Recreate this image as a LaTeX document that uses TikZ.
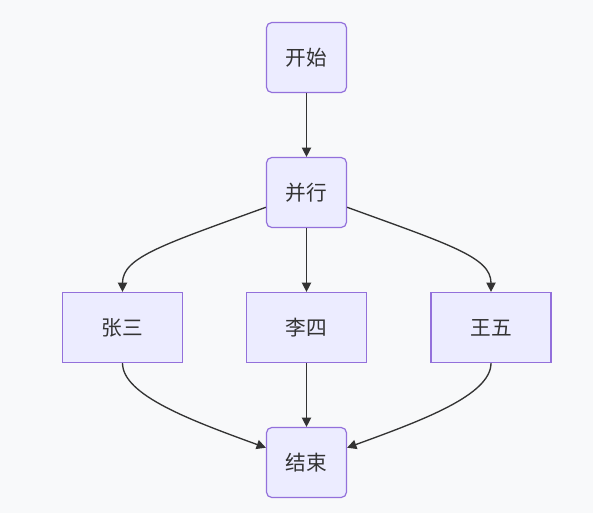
\documentclass[tikz,border=0pt]{standalone}
\usepackage{fontspec}
\newfontfamily\cjk{Noto Sans CJK SC}
\usetikzlibrary{arrows.meta}
\definecolor{bgc}{HTML}{F8F9FA}
\definecolor{nodefill}{HTML}{ECECFF}
\definecolor{nodeline}{HTML}{9370DB}
\definecolor{txt}{HTML}{333333}
\begin{document}
\begin{tikzpicture}[x=0.75pt,y=0.75pt,
  base/.style={draw=nodeline,fill=nodefill,line width=0.9pt,text=txt,font=\cjk\fontsize{15.5pt}{18pt}\selectfont,inner sep=0pt},
  roundbox/.style={base,rounded corners=4pt,minimum width=60pt,minimum height=52.5pt},
  sqbox/.style={base,minimum width=90pt,minimum height=52.5pt},
  conn/.style={draw=txt,line width=1pt,-{Triangle[length=7pt,width=7pt]}}]
\fill[bgc] (0,0) rectangle (593,-513);
\useasboundingbox (0,0) rectangle (593,-513);
\node[roundbox] (s) at (306.5,-57.5) {开始};
\node[roundbox] (p) at (306.5,-192.5) {并行};
\node[sqbox] (z) at (122.5,-327.5) {张三};
\node[sqbox] (l) at (306.5,-327.5) {李四};
\node[sqbox] (w) at (491,-327.5) {王五};
\node[roundbox] (e) at (306.5,-462.5) {结束};
\draw[conn] (s) -- (p);
\draw[conn] (p) -- (l);
\draw[conn] (l) -- (e);
\draw[conn] (p) to[out=200,in=90,out distance=82pt,in distance=26pt] (z.north);
\draw[conn] (p) to[out=-20,in=90,out distance=82pt,in distance=26pt] (w.north);
\draw[conn] (z.south) to[out=270,in=160,out distance=24pt,in distance=60pt] (e);
\draw[conn] (w.south) to[out=270,in=20,out distance=24pt,in distance=60pt] (e);
\end{tikzpicture}
\end{document}
